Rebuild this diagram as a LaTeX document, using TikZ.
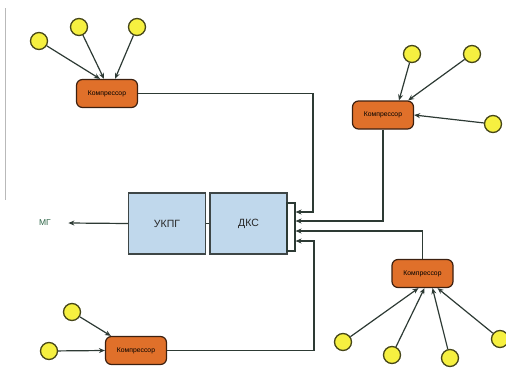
\documentclass[tikz,border=0pt]{standalone}
\usepackage{fontspec}
\setmainfont{Liberation Sans}
\usepackage{tikz}
\usetikzlibrary{
    arrows.meta,
    calc
}

\definecolor{wire}{RGB}{45,58,52}
\definecolor{ballfill}{RGB}{246,240,64}
\definecolor{ballrim}{RGB}{70,70,25}
\definecolor{compfill}{RGB}{224,112,42}
\definecolor{comprim}{RGB}{60,32,16}
\definecolor{unitfill}{RGB}{192,216,236}
\definecolor{unitrim}{RGB}{62,70,70}
\definecolor{mgtext}{RGB}{45,100,70}

\tikzset{
    well/.style={circle,draw=ballrim,fill=ballfill,line width=1.3pt,minimum size=17pt,inner sep=0pt},
    comp/.style={draw=comprim,fill=compfill,line width=1.2pt,rounded corners=6pt,
        minimum width=61pt,minimum height=28pt,inner sep=0pt,font=\fontsize{6.8}{7}\selectfont},
    unit/.style={draw=unitrim,fill=unitfill,line width=1.1pt,minimum width=77pt,
        minimum height=61pt,inner sep=0pt,font=\fontsize{10.5}{12}\selectfont,text=black!85},
    pipe/.style={draw=wire,line width=1.2pt},
    feed/.style={pipe,-{Stealth[length=6pt,width=5pt]}}
}

\begin{document}
\begin{tikzpicture}[x=1pt,y=-1pt]

\useasboundingbox (0,0) rectangle (506,367);

% page edge
\draw[gray!55,line width=0.6pt] (5,8) -- (5,200);

% Units
\node[unit] (ukpg) at (167,223.5) {УКПГ};
\node[unit] (dks) at (248.5,223.5) {ДКС};
\node[draw=wire,line width=1.1pt,minimum width=8pt,minimum height=48pt,inner sep=0pt] (br) at (291,227) {};
\draw[pipe] (ukpg) -- (dks);

% Output
\node[text=mgtext,font=\fontsize{8.5}{9}\selectfont] (mg) at (45,223) {МГ};
\draw[feed] (ukpg.west) -- ([xshift=14pt]mg.east);

% Compressors
\node[comp] (kl) at (107,93.5) {Компрессор};
\node[comp] (kr) at (383,115) {Компрессор};
\node[comp] (kb) at (422.5,273.5) {Компрессор};
\node[comp] (kd) at (136,350.5) {Компрессор};

% Wells, top left
\node[well] (s1) at (39,41) {};
\node[well] (s2) at (79,27) {};
\node[well] (s3) at (137,27) {};
\draw[feed] (s1) -- ([xshift=-7pt]kl.north);
\draw[feed] (s2) -- ([xshift=-3pt]kl.north);
\draw[feed] (s3) -- ([xshift=8pt]kl.north);

% Wells, top right
\node[well] (s4) at (412,54) {};
\node[well] (s5) at (472,54) {};
\node[well] (s6) at (493,124) {};
\draw[feed] (s4) -- ([xshift=16pt]kr.north);
\draw[feed] (s5) -- ([xshift=-6pt]kr.north east);
\draw[feed] (s6) -- (kr.east);

% Wells, bottom right
\node[well] (s7) at (343,342) {};
\node[well] (s8) at (392,355) {};
\node[well] (s9) at (450,358) {};
\node[well] (s10) at (500,339) {};
\draw[feed] (s7) -- ([xshift=-4pt]kb.south);
\draw[feed] (s8) -- ([xshift=2pt]kb.south);
\draw[feed] (s9) -- ([xshift=10pt]kb.south);
\draw[feed] (s10) -- ([xshift=15pt]kb.south);

% Wells, bottom left
\node[well] (s11) at (72,312) {};
\node[well] (s12) at (49,351) {};
\draw[feed] (s11) -- ([xshift=6pt]kd.north west);
\draw[feed] (s12) -- (kd.west);

% Gathering lines
\coordinate (j1) at (313,212);
\coordinate (j4) at (314,241);
\draw[feed] (kl.east) -| (j1) -- (j1 -| br.east);
\draw[feed] (kr.south) |- ([yshift=6pt]br.east);
\draw[feed] (kb.north) |- ([yshift=-4pt]br.east);
\draw[feed] (kd.east) -| (j4) -- (j4 -| br.east);

\end{tikzpicture}
\end{document}
